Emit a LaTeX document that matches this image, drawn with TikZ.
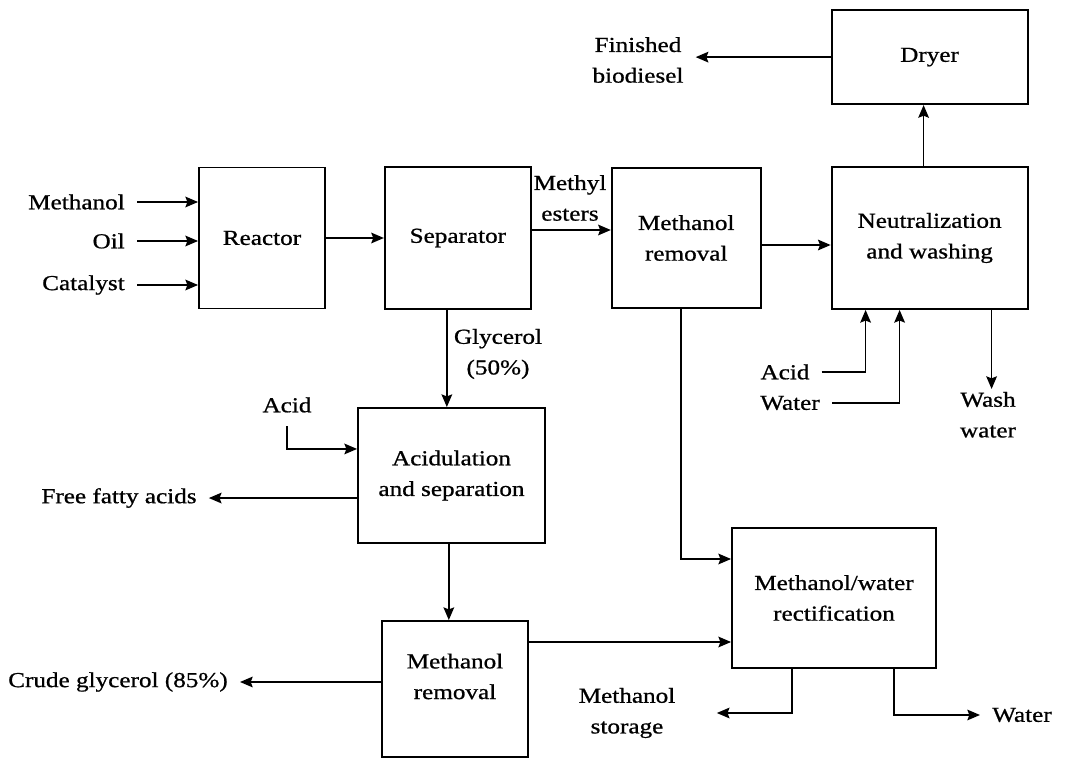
\documentclass[tikz,border=0pt]{standalone}
\usepackage{fontspec}
\setmainfont{Liberation Serif}[FakeStretch=1.18, FakeBold=0.8]
\usepackage{tikz}
\usetikzlibrary{arrows.meta, positioning}
\tikzstyle{process} = [rectangle, draw=black, line width=1.4pt, text centered, align=center, inner sep=0pt]
\tikzstyle{stream} = [text centered, align=center, inner xsep=9pt, inner ysep=2pt]
\tikzstyle{arrow} = [line width=1.2pt, -{Stealth[length=9.5pt, width=8pt, inset=1.5pt]}]

\begin{document}
\begin{tikzpicture}[x=0.75pt, y=-0.75pt, font=\fontsize{16pt}{23pt}\selectfont]
        \useasboundingbox (0,0) rectangle (1065,759);
        % Nodes
        \node (reactor) [process, minimum width=94.5pt, minimum height=105.75pt] at (262,238) {Reactor};
        \node (separator) [process, right=43.5pt of reactor, minimum width=109.5pt, minimum height=106.5pt] {Separator};
        \node (mremtop) [process, right=59.25pt of separator, minimum width=111.75pt, minimum height=105pt] {Methanol\\removal};
        \node (neutral) [process, right=51.75pt of mremtop, minimum width=147pt, minimum height=106.5pt] {Neutralization\\and washing};
        \node (dryer) [process, above=45.75pt of neutral, minimum width=147pt, minimum height=70.5pt] {Dryer};

        \node (acidsep) [process, minimum width=140.25pt, minimum height=101.25pt] at (451.5,475.5) {Acidulation\\and separation};
        \node (mrembot) [process, minimum width=109.5pt, minimum height=102pt, text depth=19pt] at (455,689) {Methanol\\removal};
        \node (rectif) [process, minimum width=153pt, minimum height=105pt] at (834,598) {Methanol/water\\rectification};

        % Stream labels
        \node (lmeth) [stream, anchor=east] at (137,202) {Methanol};
        \node (loil) [stream, anchor=east] at (137,241) {Oil};
        \node (lcat) [stream, anchor=east] at (137,285) {Catalyst};
        \node (lester) [stream, inner xsep=0pt] at (570,198) {Methyl\\esters};
        \node (lfin) [stream] at (638,60) {Finished\\biodiesel};
        \node (lacidn) [stream] at (785,372) {Acid};
        \node (lwatern) [stream] at (790,403) {Water};
        \node (lwash) [stream, anchor=north] at (988,389) {Wash\\water};
        \node (lglyc) [stream, inner xsep=0pt] at (498,354) {Glycerol\\(50\%)};
        \node (lacida) [stream] at (287,405) {Acid};
        \node (lffa) [stream] at (119,498) {Free fatty acids};
        \node (lcrude) [stream] at (118,682) {Crude glycerol (85\%)};
        \node (lstore) [stream] at (627,713) {Methanol\\storage};
        \node (lwater) [stream] at (1022,715) {Water};

        % Connections
        \draw [arrow] (lmeth.east) -- (lmeth.east -| reactor.west);
        \draw [arrow] (loil.east) -- (loil.east -| reactor.west);
        \draw [arrow] (lcat.east) -- (lcat.east -| reactor.west);
        \draw [arrow] (reactor) -- (separator);
        \draw [arrow] ([yshift=6pt]separator.east) -- ([yshift=6pt]mremtop.west);
        \draw [arrow] ([yshift=-5.25pt]mremtop.east) -- ([yshift=-5.25pt]neutral.west);
        \draw [arrow] ([xshift=-4.5pt]neutral.north) -- ([xshift=-4.5pt]dryer.south);
        \draw [arrow] (dryer.west) -- (dryer.west -| lfin.east);
        \draw [arrow] (lacidn.east) -| ([xshift=-48pt]neutral.south);
        \draw [arrow] (lwatern.east) -| ([xshift=-22.5pt]neutral.south);
        \draw [arrow] ([xshift=46.5pt]neutral.south) -- ([xshift=46.5pt]neutral.south |- lwash.north);
        \draw [arrow] ([xshift=-4pt]mremtop.south) |- ([yshift=29.25pt]rectif.west);
        \draw [arrow] ([xshift=-8.25pt]separator.south) -- ([xshift=-8.25pt]separator.south |- acidsep.north);
        \draw [arrow, shorten <=8pt] (lacida.south) |- ([yshift=19.9pt]acidsep.west);
        \draw [arrow] ([yshift=-16.9pt]acidsep.west) -- ([yshift=-16.9pt]acidsep.west -| lffa.east);
        \draw [arrow] ([xshift=-2pt]acidsep.south) -- ([xshift=-2pt]acidsep.south |- mrembot.north);
        \draw [arrow] ([yshift=35.25pt]mrembot.east) -- ([yshift=35.25pt]mrembot.east -| rectif.west);
        \draw [arrow] ([yshift=5.25pt]mrembot.west) -- ([yshift=5.25pt]mrembot.west -| lcrude.east);
        \draw [arrow] ([xshift=-31.5pt]rectif.south) |- ([xshift=22pt]lstore.east);
        \draw [arrow] ([xshift=45pt]rectif.south) |- (lwater.west);
    \end{tikzpicture}
\end{document}
